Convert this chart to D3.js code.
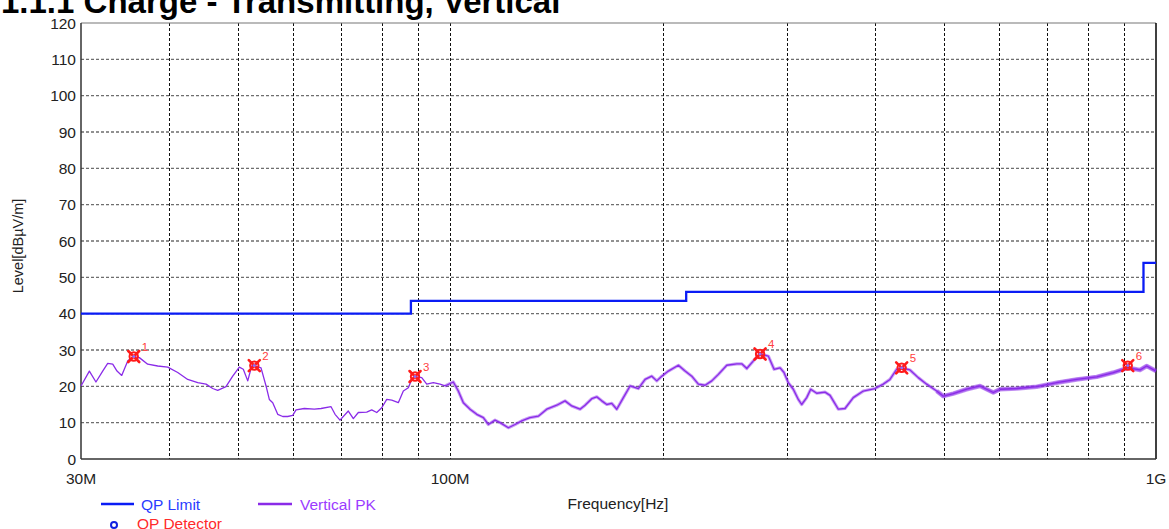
<!DOCTYPE html>
<html>
<head>
<meta charset="utf-8">
<script src="https://cdn.jsdelivr.net/npm/d3@7"></script>
<style>
  html, body { margin: 0; padding: 0; background: #fff; }
  svg { display: block; font-family: "Liberation Sans", Arial, sans-serif; }
</style>
</head>
<body>
<svg id="chart" width="1169" height="529"></svg>
<script>
// Radiated emission scan, 30 MHz – 1 GHz, vertical antenna polarisation.
const title = "1.1.1 Charge - Transmitting, Vertical";

// Peak-detector trace: frequency (MHz) and level (dBµV/m)
const pkFreq = [
  30.00, 30.83, 31.50, 32.20, 32.73, 33.27, 33.74, 34.26, 34.55, 34.94,
  35.63, 36.29, 37.29, 38.53, 39.81, 41.13, 42.49, 43.90, 45.11, 46.10,
  46.86, 48.14, 49.21, 50.28, 50.94, 51.68, 52.35, 52.80, 53.97, 54.86,
  55.45, 56.07, 56.99, 57.93, 58.88, 59.85, 60.50, 62.16, 64.22, 65.64,
  67.82, 68.71, 69.83, 71.75, 72.93, 74.13, 76.19, 77.44, 78.72, 80.01,
  81.33, 82.67, 84.46, 85.85, 87.26, 88.24, 89.19, 91.16, 92.66, 94.68,
  96.77, 98.36, 101.06, 102.72, 104.41, 106.72, 109.08, 111.45, 113.29, 115.79,
  117.70, 120.92, 123.59, 126.32, 129.79, 133.36, 137.06, 141.61, 145.49, 148.71,
  152.79, 155.31, 158.74, 161.35, 164.00, 166.70, 169.44, 172.23, 175.98, 179.86,
  184.80, 188.89, 193.06, 196.24, 199.46, 203.80, 210.56, 215.22, 219.97, 224.76,
  229.73, 234.80, 239.91, 246.58, 254.75, 258.95, 263.21, 268.93, 274.87, 282.42,
  287.72, 293.41, 297.17, 301.37, 306.33, 311.37, 314.84, 320.03, 324.24, 330.65,
  339.71, 345.30, 349.03, 354.77, 362.61, 372.53, 384.88, 399.84, 410.81, 419.88,
  429.15, 436.22, 448.19, 460.49, 473.30, 489.01, 499.66, 516.23, 539.30, 563.24,
  588.22, 601.22, 634.92, 677.76, 723.55, 772.14, 824.30, 870.22, 912.00, 949.15,
  970.13, 1000.0
];
const pkLevel = [
  20.1, 24.2, 21.2, 24.2, 26.3, 26.1, 24.2, 23.0, 24.7, 27.0,
  28.2, 27.9, 26.1, 25.6, 25.3, 23.8, 21.9, 21.0, 20.6, 19.4,
  18.9, 19.9, 22.8, 25.3, 24.7, 21.5, 25.6, 25.7, 25.1, 20.1,
  16.4, 15.5, 12.3, 11.7, 11.7, 12.0, 13.5, 13.9, 13.7, 13.9,
  14.4, 12.3, 10.7, 13.2, 11.1, 12.8, 12.9, 13.5, 12.8, 14.1,
  16.4, 16.2, 15.5, 18.7, 19.6, 21.9, 22.7, 22.4, 20.6, 21.0,
  20.6, 20.1, 21.2, 18.7, 15.5, 13.7, 12.3, 11.4, 9.5, 10.7,
  10.0, 8.6, 9.5, 10.5, 11.4, 11.8, 13.7, 14.8, 16.0, 14.6,
  13.7, 14.8, 16.6, 17.1, 16.0, 15.0, 15.3, 13.7, 16.9, 20.1,
  19.4, 21.9, 22.8, 21.5, 22.8, 24.2, 25.8, 24.2, 22.8, 20.6,
  20.3, 21.5, 23.3, 25.8, 26.2, 26.2, 24.9, 27.0, 28.9, 28.3,
  24.7, 25.1, 23.8, 21.0, 19.2, 16.4, 15.0, 16.9, 19.2, 18.1,
  18.4, 17.5, 16.0, 13.7, 13.9, 16.9, 18.7, 19.4, 20.6, 21.9,
  24.7, 25.1, 24.5, 22.4, 20.6, 18.7, 17.3, 18.0, 19.2, 20.1,
  18.3, 19.2, 19.4, 19.9, 21.0, 21.9, 22.6, 23.8, 25.1, 24.5,
  25.6, 24.2
];

// QP limit steps: start (MHz), end (MHz), level (dBµV/m)
const limitStart = [30, 88, 216, 960];
const limitEnd   = [88, 216, 960, 1000];
const limitLevel = [40, 43.5, 46, 54];

// Marked peaks
const markerId    = ["1", "2", "3", "4", "5", "6"];
const markerFreq  = [35.63, 52.80, 89.19, 274.87, 436.22, 912.00];
const markerLevel = [28.2, 25.7, 22.7, 28.9, 25.1, 25.7];

// Axes
const yTicks = d3.range(0, 121, 10);
const xGrid = [40, 50, 60, 70, 80, 90, 100, 200, 300, 400, 500, 600, 700, 800, 900];
const xTickValues = [30, 100, 1000];
const xTickLabels = ["30M", "100M", "1G"];

const svg = d3.select("#chart");
const x = d3.scaleLog().domain([30, 1000]).range([81, 1156]);
const y = d3.scaleLinear().domain([0, 120]).range([459, 23]);

// Title (runs off the top edge of the page)
svg.append("text")
  .attr("x", 1).attr("y", 13)
  .attr("font-size", 33).attr("font-weight", "bold").attr("fill", "#000")
  .text(title);

// Grid
const grid = svg.append("g");
grid.selectAll("line.h").data(yTicks.filter(d => d > 0 && d < 120)).join("line")
  .attr("x1", x(30)).attr("x2", x(1000))
  .attr("y1", d => y(d)).attr("y2", d => y(d))
  .attr("stroke", "#6e6e6e").attr("stroke-width", 1.3)
  .attr("stroke-dasharray", "3,2");
grid.selectAll("line.v").data(xGrid).join("line")
  .attr("x1", d => Math.round(x(d)) + 0.5).attr("x2", d => Math.round(x(d)) + 0.5)
  .attr("y1", y(120)).attr("y2", y(0))
  .attr("stroke", "#111").attr("stroke-width", 1)
  .attr("stroke-dasharray", "3,2");

// Frame
svg.append("line").attr("x1", x(30)).attr("x2", x(1000)).attr("y1", y(120)).attr("y2", y(120))
  .attr("stroke", "#777").attr("stroke-width", 1.2);
svg.append("line").attr("x1", x(1000)).attr("x2", x(1000)).attr("y1", y(120)).attr("y2", y(0))
  .attr("stroke", "#000").attr("stroke-width", 1.5);
svg.append("line").attr("x1", x(30)).attr("x2", x(30)).attr("y1", y(120)).attr("y2", y(0))
  .attr("stroke", "#333").attr("stroke-width", 1.5);
svg.append("line").attr("x1", x(30)).attr("x2", x(1000)).attr("y1", y(0)).attr("y2", y(0))
  .attr("stroke", "#333").attr("stroke-width", 1.5);

// Y tick labels
svg.append("g").selectAll("text").data(yTicks).join("text")
  .attr("x", 76).attr("y", d => y(d)).attr("dy", "0.36em")
  .attr("text-anchor", "end").attr("font-size", 15.5).attr("fill", "#222")
  .text(d => d);

// X tick labels
svg.append("g").selectAll("text").data(xTickValues).join("text")
  .attr("x", d => x(d)).attr("y", 484)
  .attr("text-anchor", "middle").attr("font-size", 15.5).attr("fill", "#222")
  .text((d, i) => xTickLabels[i]);

// Axis titles
svg.append("text")
  .attr("transform", "translate(23,246) rotate(-90)")
  .attr("text-anchor", "middle").attr("font-size", 14.5).attr("fill", "#222")
  .text("Level[dBµV/m]");
svg.append("text")
  .attr("x", 618).attr("y", 509)
  .attr("text-anchor", "middle").attr("font-size", 15.5).attr("fill", "#222")
  .text("Frequency[Hz]");

// QP limit
const limitPts = [];
limitStart.forEach((s, i) => {
  limitPts.push([s, limitLevel[i]]);
  limitPts.push([limitEnd[i], limitLevel[i]]);
});
const line = d3.line().x(d => x(d[0])).y(d => y(d[1]));
svg.append("path").datum(limitPts)
  .attr("d", line).attr("fill", "none")
  .attr("stroke", "#0a1cf5").attr("stroke-width", 2.3);

// Peak trace
const pk = pkFreq.map((f, i) => [f, pkLevel[i]]);
const pkColor = "#8a2be8";
svg.append("path").datum(pk.filter(d => d[0] >= 98))
  .attr("d", line).attr("fill", "none")
  .attr("stroke", pkColor).attr("stroke-opacity", 0.45).attr("stroke-width", 3.2)
  .attr("stroke-linejoin", "round");
svg.append("path").datum(pk.filter(d => d[0] >= 480))
  .attr("d", line).attr("fill", "none")
  .attr("stroke", pkColor).attr("stroke-opacity", 0.5).attr("stroke-width", 4.5)
  .attr("stroke-linejoin", "round");
svg.append("path").datum(pk)
  .attr("d", line).attr("fill", "none")
  .attr("stroke", pkColor).attr("stroke-width", 1.3)
  .attr("stroke-linejoin", "round");

// Peak markers
const mk = svg.append("g").selectAll("g").data(markerId).join("g")
  .attr("transform", (d, i) => `translate(${x(markerFreq[i])},${y(markerLevel[i])})`);
mk.append("circle").attr("r", 4.2).attr("fill", "none")
  .attr("stroke", "#ff1a1a").attr("stroke-width", 2);
mk.append("path").attr("d", "M-5.5,-5.5L5.5,5.5M-5.5,5.5L5.5,-5.5")
  .attr("stroke", "#ff1a1a").attr("stroke-width", 2.6).attr("stroke-linecap", "round");
mk.append("circle").attr("r", 1.5).attr("fill", "#8a70ff");
mk.append("text").attr("x", 8).attr("y", -6)
  .attr("font-size", 11.5).attr("fill", "#ff4040")
  .text(d => d);

// Legend
const lg = svg.append("g");
lg.append("line").attr("x1", 101).attr("x2", 134).attr("y1", 504).attr("y2", 504)
  .attr("stroke", "#0a1cf5").attr("stroke-width", 2.3);
lg.append("text").attr("x", 141).attr("y", 509.5).attr("font-size", 15.5).attr("fill", "#2a3cff")
  .text("QP Limit");
lg.append("line").attr("x1", 258).attr("x2", 292).attr("y1", 504).attr("y2", 504)
  .attr("stroke", pkColor).attr("stroke-width", 2.3);
lg.append("text").attr("x", 300).attr("y", 509.5).attr("font-size", 15.5).attr("fill", "#9b3bff")
  .text("Vertical PK");
lg.append("circle").attr("cx", 114).attr("cy", 525).attr("r", 3)
  .attr("fill", "none").attr("stroke", "#1020e0").attr("stroke-width", 2);
lg.append("text").attr("x", 137).attr("y", 529).attr("font-size", 15.5).attr("fill", "#ff2a2a")
  .text("QP Detector");
</script>
</body>
</html>
